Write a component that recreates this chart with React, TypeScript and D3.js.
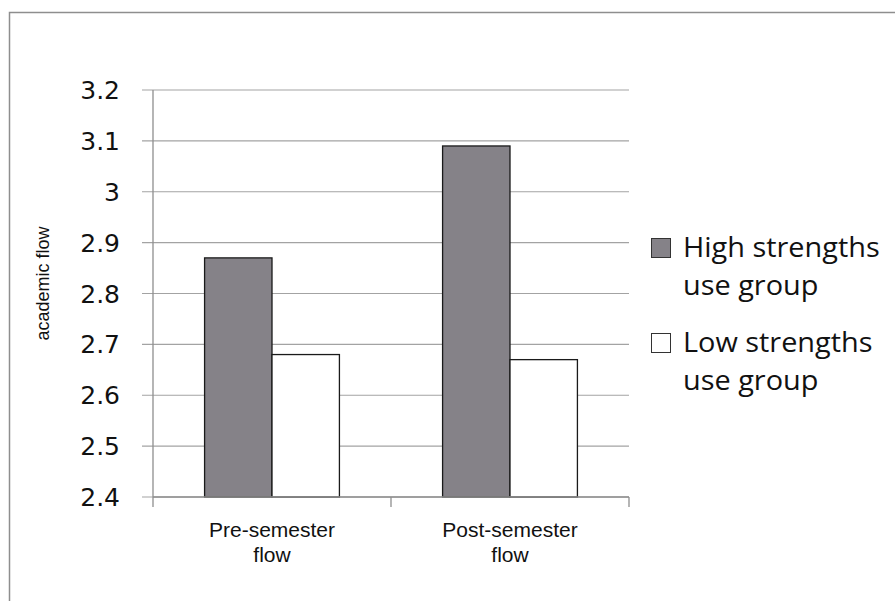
import { scaleBand, scaleLinear } from "d3";

const categories = ["Pre-semester flow", "Post-semester flow"];
const categoryLines = [["Pre-semester", "flow"], ["Post-semester", "flow"]];
const seriesNames = ["High strengths use group", "Low strengths use group"];
const legendLines = [["High strengths", "use group"], ["Low strengths", "use group"]];
const highValues = [2.87, 3.09];
const lowValues = [2.68, 2.67];
const yTicks = [2.4, 2.5, 2.6, 2.7, 2.8, 2.9, 3.0, 3.1, 3.2];

const seriesColors = ["#858288", "#ffffff"];

export default function App() {
  const width = 895;
  const height = 601;
  const plot = { left: 153, right: 629, top: 90, bottom: 497 };

  const y = scaleLinear().domain([2.4, 3.2]).range([plot.bottom, plot.top]);
  const x = scaleBand<string>()
    .domain(categories)
    .range([plot.left, plot.right])
    .paddingInner(0)
    .paddingOuter(0);
  const inner = scaleBand<string>()
    .domain(seriesNames)
    .range([0, x.bandwidth()])
    .paddingOuter(0.765)
    .paddingInner(0);

  const series = [highValues, lowValues];
  // legend rows sit under the matching gridline positions of the reference
  const legendTop = [238, 333];
  const lineGap = 38;

  return (
    <div style={{ position: "absolute", left: 0, top: 0 }}>
      <svg width={width} height={height} style={{ display: "block", background: "#fff" }}>
        <rect x={9.5} y={12.5} width={900} height={620} fill="none" stroke="#8e8e8e" strokeWidth={1.5} />

        {yTicks.map((tick) => (
          <g key={tick}>
            <line x1={plot.left - 11} x2={plot.right} y1={y(tick)} y2={y(tick)} stroke="#a3a3a3" strokeWidth={1.2} />
            <text
              x={120}
              y={y(tick) + 9}
              textAnchor="end"
              fontFamily="DejaVu Sans"
              fontSize={25}
              fill="#111"
            >
              {tick === 3 ? "3" : tick.toFixed(1)}
            </text>
          </g>
        ))}

        {categories.map((cat, ci) =>
          series.map((values, si) => {
            const bx = (x(cat) ?? 0) + (inner(seriesNames[si]) ?? 0);
            const by = y(values[ci]);
            return (
              <rect
                key={`${cat}-${si}`}
                x={bx}
                y={by}
                width={inner.bandwidth()}
                height={plot.bottom - by}
                fill={seriesColors[si]}
                stroke="#1a1a1a"
                strokeWidth={1.3}
              />
            );
          })
        )}

        <line x1={plot.left} x2={plot.left} y1={plot.top} y2={plot.bottom} stroke="#8e8e8e" strokeWidth={1.3} />
        <line x1={plot.left} x2={plot.right} y1={plot.bottom} y2={plot.bottom} stroke="#8e8e8e" strokeWidth={1.3} />
        {[...categories.map((c) => x(c) ?? 0), plot.right].map((tx) => (
          <line key={tx} x1={tx} x2={tx} y1={plot.bottom} y2={plot.bottom + 10} stroke="#8e8e8e" strokeWidth={1.3} />
        ))}

        {categories.map((cat, ci) => (
          <text
            key={cat}
            x={(x(cat) ?? 0) + x.bandwidth() / 2}
            textAnchor="middle"
            fontFamily="Liberation Sans, Arial"
            fontSize={21}
            fill="#111"
          >
            {categoryLines[ci].map((line, li) => (
              <tspan key={line} x={(x(cat) ?? 0) + x.bandwidth() / 2} y={537 + li * 25}>
                {line}
              </tspan>
            ))}
          </text>
        ))}

        <text
          transform={`translate(49, ${(plot.top + plot.bottom) / 2 - 10}) rotate(-90)`}
          textAnchor="middle"
          fontFamily="Liberation Sans, Arial"
          fontSize={18}
          fill="#111"
        >
          academic flow
        </text>

        {seriesNames.map((name, si) => {
          const top = legendTop[si];
          return (
            <g key={name}>
              <rect x={651.5} y={top + 0.5} width={19} height={19} fill={seriesColors[si]} stroke="#333" strokeWidth={1} />
              <g transform={`translate(683, 0) scale(1.09, 1)`}>
                {legendLines[si].map((line, li) => (
                  <text key={line} x={0} y={top + 19 + li * lineGap} fontFamily="Open Sans" fontSize={26.5} fill="#111">
                    {line}
                  </text>
                ))}
              </g>
            </g>
          );
        })}
      </svg>
    </div>
  );
}
